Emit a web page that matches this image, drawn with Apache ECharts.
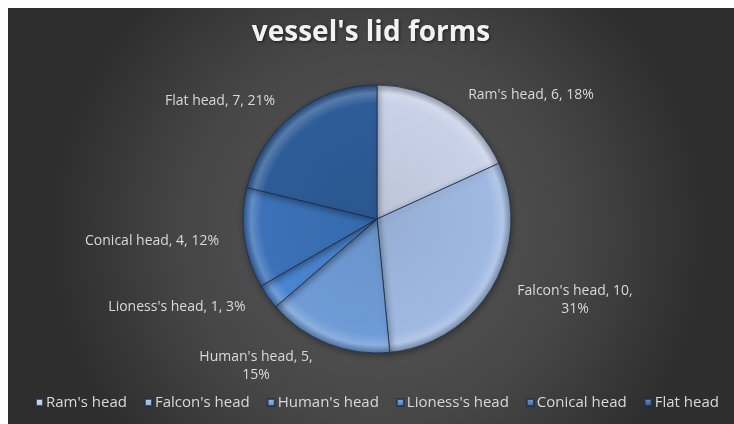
<!DOCTYPE html>
<html>
<head>
<meta charset="utf-8">
<title>vessel's lid forms</title>
<script src="https://cdn.jsdelivr.net/npm/echarts@6/dist/echarts.min.js"></script>
<style>
  html, body { margin: 0; padding: 0; background: #ffffff; overflow: hidden; }
  #chart { position: absolute; left: 8px; top: 8px; width: 726px; height: 416px; }
</style>
</head>
<body>
<div id="chart"></div>
<script>
// Lid form categories and how many vessels carry each form
const categories = ["Ram's head", "Falcon's head", "Human's head", "Lioness's head", "Conical head", "Flat head"];
const counts = [6, 10, 5, 1, 4, 7];

// Slice colours, light to dark blue
const sliceColors = ['#c8d1e7', '#a0b9e2', '#6f9bd6', '#4a85d0', '#3b71b8', '#2e5c98'];

// Label placement (centre of each label block) and which labels wrap the percentage
const labelPos = [[523, 87], [567, 292], [248, 358], [169, 299], [144, 233], [212, 93]];
const wrapPercent = [false, true, true, false, false, false];

const CX = 369, CY = 211, R = 134;

function shade(hex, f) {
  const n = parseInt(hex.slice(1), 16);
  let r = (n >> 16) & 255, g = (n >> 8) & 255, b = n & 255;
  if (f >= 0) { r += (255 - r) * f; g += (255 - g) * f; b += (255 - b) * f; }
  else { r *= 1 + f; g *= 1 + f; b *= 1 + f; }
  return 'rgb(' + Math.round(r) + ',' + Math.round(g) + ',' + Math.round(b) + ')';
}

function sliceFill(c) {
  return {
    type: 'radial', x: CX, y: CY, r: R, global: true,
    colorStops: [
      { offset: 0, color: shade(c, -0.06) },
      { offset: 0.86, color: c },
      { offset: 0.94, color: shade(c, 0.2) },
      { offset: 1, color: shade(c, -0.25) }
    ]
  };
}

const pieData = categories.map((name, i) => ({
  name: name,
  value: counts[i],
  itemStyle: { color: sliceFill(sliceColors[i]) }
}));

const legendData = categories.map((name, i) => ({
  name: name,
  itemStyle: {
    color: {
      type: 'linear', x: 0, y: 0, x2: 0, y2: 1,
      colorStops: [
        { offset: 0, color: shade(sliceColors[i], 0.35) },
        { offset: 1, color: shade(sliceColors[i], -0.1) }
      ]
    }
  }
}));

const chart = echarts.init(document.getElementById('chart'), null, { renderer: 'canvas' });

chart.setOption({
  animation: false,
  backgroundColor: {
    type: 'radial', x: 0.51, y: 0.54, r: 0.78,
    colorStops: [
      { offset: 0, color: '#595959' },
      { offset: 0.6, color: '#464646' },
      { offset: 1, color: '#2e2e2e' }
    ]
  },
  title: {
    text: "vessel's lid forms",
    left: 'center',
    top: 6,
    textStyle: {
      fontFamily: 'Open Sans',
      fontWeight: 'bold',
      fontSize: 28,
      color: '#f2f2f2',
      textShadowColor: 'rgba(0,0,0,0.6)',
      textShadowBlur: 3,
      textShadowOffsetX: 1,
      textShadowOffsetY: 1
    }
  },
  legend: {
    data: legendData,
    bottom: 9,
    left: 22,
    icon: 'rect',
    itemWidth: 7,
    itemHeight: 7,
    itemGap: 17,
    textStyle: { fontFamily: 'Open Sans', fontSize: 15, color: '#d9d9d9', padding: [0, 0, 0, -2] }
  },
  series: [
    {
      type: 'pie',
      center: [CX, CY],
      radius: R,
      startAngle: 90,
      clockwise: true,
      data: pieData,
      itemStyle: {
        borderColor: 'rgba(30,45,70,0.75)',
        borderWidth: 1,
        shadowColor: 'rgba(0,0,0,0.35)',
        shadowBlur: 6,
        shadowOffsetX: 1,
        shadowOffsetY: 2
      },
      label: {
        show: true,
        position: 'outside',
        fontFamily: 'Open Sans',
        fontSize: 14,
        lineHeight: 18,
        color: '#d9d9d9',
        align: 'center',
        formatter: p => p.name + ', ' + p.value + ',' + (wrapPercent[p.dataIndex] ? '\n' : ' ') + p.percent + '%'
      },
      percentPrecision: 0,
      labelLine: { show: false },
      labelLayout: params => {
        const p = labelPos[params.dataIndex];
        return { x: p[0], y: p[1], align: 'center', verticalAlign: 'middle' };
      },
      emphasis: { disabled: true }
    }
  ]
});
</script>
</body>
</html>
